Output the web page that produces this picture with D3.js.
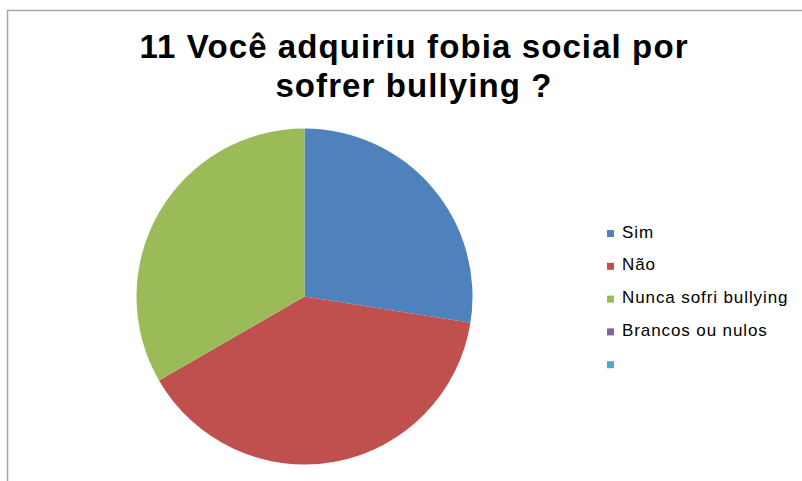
<!DOCTYPE html>
<html><head><meta charset="utf-8">
<script src="https://cdn.jsdelivr.net/npm/d3@7"></script>
<style>body{margin:0;background:#fff}svg{display:block}</style>
</head><body><svg id="c" width="802" height="481"></svg>
<script>
const categories = ["Sim", "Não", "Nunca sofri bullying", "Brancos ou nulos", ""];
const values = [33, 47, 40, 0, 0];
const colors = ["#4F81BD", "#C0504D", "#9BBB59", "#8064A2", "#4BACC6"];
const titleLines = ["11 Você adquiriu fobia social por", "sofrer bullying ?"];

const svg = d3.select("#c");
// frame
svg.append("path").attr("d","M7.5,481 V10.5 H802").attr("fill","none").attr("stroke","#a6a6a6").attr("stroke-width",1.5);

svg.append("g").selectAll("text").data(titleLines).join("text")
  .attr("x", 414).attr("y",(d,i)=>58+i*39)
  .attr("text-anchor","middle")
  .attr("font-family","Liberation Sans, Arial, sans-serif")
  .attr("font-weight","bold").attr("font-size",33).attr("letter-spacing",1.1).attr("fill","#000")
  .text(d=>d);

const cx=304.5, cy=296.5, r=168;
const pie = d3.pie().sort(null).value(d=>d)(values);
const arc = d3.arc().innerRadius(0).outerRadius(r);
svg.append("g").attr("transform",`translate(${cx},${cy})`)
  .selectAll("path").data(pie).join("path")
  .attr("d",arc).attr("fill",(d,i)=>colors[i]);

const lg = svg.append("g").selectAll("g").data(categories).join("g")
  .attr("transform",(d,i)=>`translate(607,${230+i*32.8})`);
lg.append("rect").attr("width",7).attr("height",7).attr("fill",(d,i)=>colors[i]);
lg.append("text").attr("x",15).attr("y",7.5)
  .attr("font-family","Liberation Sans, Arial, sans-serif").attr("font-size",17)
  .attr("letter-spacing",0.9).attr("fill","#000")
  .text(d=>d);
</script></body></html>
